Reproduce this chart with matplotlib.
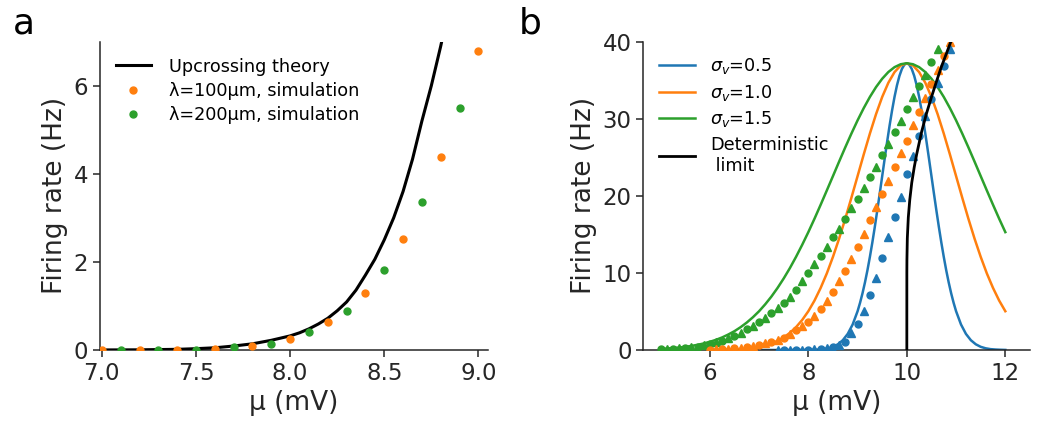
import matplotlib
matplotlib.use("Agg")
import matplotlib.pyplot as plt

# ---------------- Panel a data ----------------
a_theory_x = [7.0, 7.2, 7.4, 7.5, 7.6, 7.7, 7.8, 7.9, 8.0, 8.05, 8.1, 8.15, 8.2, 8.25, 8.3, 8.35,
              8.4, 8.45, 8.5, 8.55, 8.6, 8.65, 8.7, 8.75, 8.8, 8.85]
a_theory_y = [0.001, 0.004, 0.015, 0.03, 0.05, 0.09, 0.14, 0.22, 0.32, 0.39, 0.48, 0.59, 0.72, 0.89,
              1.09, 1.36, 1.7, 2.06, 2.5, 3.0, 3.6, 4.33, 5.2, 6.0, 6.9, 7.9]
a100_x = [7.0, 7.2, 7.4, 7.6, 7.8, 8.0, 8.2, 8.4, 8.6, 8.8, 9.0]
a100_y = [0.0, 0.0, 0.01, 0.03, 0.08, 0.24, 0.64, 1.30, 2.53, 4.39, 6.78]
a200_x = [7.1, 7.3, 7.5, 7.7, 7.9, 8.1, 8.3, 8.5, 8.7, 8.9]
a200_y = [0.0, 0.0, 0.01, 0.06, 0.14, 0.41, 0.89, 1.81, 3.36, 5.49]
a_labels = ["Upcrossing theory", "λ=100μm, simulation", "λ=200μm, simulation"]

# ---------------- Panel b data ----------------
gl_x = [5.0, 5.125, 5.25, 5.375, 5.5, 5.625, 5.75, 5.875, 6.0, 6.125, 6.25, 6.375, 6.5, 6.625,
        6.75, 6.875, 7.0, 7.125, 7.25, 7.375, 7.5, 7.625, 7.75, 7.875, 8.0, 8.125, 8.25, 8.375,
        8.5, 8.625, 8.75, 8.875, 9.0, 9.125, 9.25, 9.375, 9.5, 9.625, 9.75, 9.875, 10.0, 10.125,
        10.25, 10.375, 10.5, 10.625, 10.75, 10.875, 11.0, 11.125, 11.25, 11.375, 11.5, 11.625,
        11.75, 11.875, 12.0]
green_line = [0.14, 0.19, 0.25, 0.32, 0.41, 0.53, 0.67, 0.85, 1.06, 1.32, 1.63, 2.01, 2.44, 2.96,
              3.56, 4.25, 5.03, 5.93, 6.93, 8.05, 9.28, 10.62, 12.08, 13.64, 15.29, 17.03, 18.84,
              20.69, 22.56, 24.44, 26.29, 28.08, 29.79, 31.38, 32.83, 34.11, 35.19, 36.06, 36.69,
              37.07, 37.2, 37.07, 36.69, 36.06, 35.19, 34.11, 32.83, 31.38, 29.79, 28.08, 26.29,
              24.44, 22.56, 20.69, 18.84, 17.03, 15.29]
orange_line = [0.0, 0.0, 0.0, 0.0, 0.0, 0.0, 0.0, 0.0, 0.01, 0.02, 0.03, 0.05, 0.08, 0.125, 0.19,
               0.28, 0.41, 0.60, 0.85, 1.19, 1.63, 2.22, 2.96, 3.89, 5.03, 6.41, 8.05, 9.93, 12.08,
               14.45, 17.03, 19.76, 22.56, 25.37, 28.08, 30.60, 32.83, 34.67, 36.05, 36.91, 37.2,
               36.91, 36.05, 34.67, 32.83, 30.60, 28.08, 25.37, 22.56, 19.76, 17.03, 14.45, 12.08,
               9.93, 8.05, 6.41, 5.03]
bl_x = [5.0, 6.0, 7.0, 7.5, 8.0, 8.1, 8.2, 8.3, 8.4, 8.5, 8.6, 8.7, 8.8, 8.9,
        9.0, 9.05, 9.1, 9.15, 9.2, 9.25, 9.3, 9.35, 9.4, 9.45, 9.5, 9.55, 9.6, 9.65, 9.7, 9.75,
        9.8, 9.85, 9.9, 9.95, 10.0, 10.05, 10.1, 10.15, 10.2, 10.25, 10.3, 10.35, 10.4, 10.45,
        10.5, 10.55, 10.6, 10.65, 10.7, 10.75, 10.8, 10.85, 10.9, 10.95, 11.0,
        11.1, 11.2, 11.3, 11.4, 11.5, 11.6, 11.7, 11.8, 11.9, 12.0]
blue_line = [0.0, 0.0, 0.0, 0.0, 0.01, 0.03, 0.06, 0.11, 0.22, 0.41, 0.74, 1.27, 2.09, 3.31,
             5.03, 6.12, 7.36, 8.77, 10.34, 12.08, 13.96, 15.98, 18.11, 20.31, 22.56, 24.81,
             27.01, 29.12, 31.07, 32.83, 34.34, 35.56, 36.46, 37.01, 37.2, 37.01, 36.46, 35.56,
             34.34, 32.83, 31.07, 29.12, 27.01, 24.81, 22.56, 20.31, 18.11, 15.98, 13.96, 12.08,
             10.34, 8.77, 7.36, 6.12, 5.03,
             3.31, 2.09, 1.27, 0.74, 0.41, 0.22, 0.11, 0.06, 0.03, 0.01]
det_x = [10.0, 10.0005, 10.002, 10.01, 10.03, 10.06, 10.1, 10.15, 10.2, 10.3, 10.4, 10.5, 10.6,
         10.7, 10.8, 10.9]
det_y = [0.0, 10.1, 11.7, 14.5, 17.2, 19.5, 21.7, 23.7, 25.4, 28.3, 30.7, 32.8, 34.8, 36.7, 38.4,
         40.1]

gc_x = [5.0, 5.25, 5.5, 5.75, 6.0, 6.25, 6.5, 6.75, 7.0, 7.25, 7.5, 7.75, 8.0, 8.25, 8.5, 8.75,
        9.0, 9.25, 9.5, 9.75, 10.0, 10.25, 10.5]
gc_y = [0.1, 0.15, 0.25, 0.45, 0.8, 1.2, 1.8, 2.7, 3.6, 4.85, 6.1, 7.8, 10.0, 12.2, 14.6, 17.0,
        19.6, 22.4, 25.3, 28.3, 31.3, 34.3, 37.4]
gt_x = [5.125, 5.375, 5.625, 5.875, 6.125, 6.375, 6.625, 6.875, 7.125, 7.375, 7.625, 7.875, 8.125,
        8.375, 8.625, 8.875, 9.125, 9.375, 9.625, 9.875, 10.125, 10.375, 10.625]
gt_y = [0.12, 0.2, 0.35, 0.6, 1.0, 1.5, 2.2, 3.1, 4.2, 5.5, 6.9, 8.9, 11.1, 13.4, 15.7, 18.4, 21.0,
        23.8, 26.7, 29.7, 32.8, 35.7, 39.0]
oc_x = [6.0, 6.25, 6.5, 6.75, 7.0, 7.25, 7.5, 7.75, 8.0, 8.25, 8.5, 8.75, 9.0, 9.25, 9.5, 9.75,
        10.0, 10.25, 10.5, 10.75]
oc_y = [0.05, 0.1, 0.2, 0.4, 0.7, 1.1, 1.6, 2.6, 3.6, 5.3, 7.5, 10.2, 13.3, 16.8, 20.2, 23.7, 27.1,
        30.9, 34.5, 38.1]
ot_x = [6.125, 6.375, 6.625, 6.875, 7.125, 7.375, 7.625, 7.875, 8.125, 8.375, 8.625, 8.875, 9.125,
        9.375, 9.625, 9.875, 10.125, 10.375, 10.625, 10.875]
ot_y = [0.07, 0.15, 0.3, 0.55, 0.9, 1.3, 2.1, 3.1, 4.4, 6.3, 8.9, 11.8, 15.1, 18.5, 21.9, 25.5,
        29.2, 32.7, 36.3, 39.9]
bc_x = [7.5, 7.75, 8.0, 8.25, 8.5, 8.75, 9.0, 9.25, 9.5, 9.75, 10.0, 10.25, 10.5, 10.75]
bc_y = [0.0, 0.02, 0.05, 0.15, 0.4, 1.1, 3.4, 7.1, 11.9, 17.3, 22.8, 27.7, 32.5, 36.8]
bt_x = [7.375, 7.625, 7.875, 8.125, 8.375, 8.625, 8.875, 9.125, 9.375, 9.625, 9.875, 10.125,
        10.375, 10.625, 10.875]
bt_y = [0.0, 0.01, 0.03, 0.1, 0.25, 0.6, 2.2, 5.0, 9.4, 14.7, 19.9, 25.2, 30.3, 34.7, 39.0]
b_labels = ["$\\sigma_v$=0.5", "$\\sigma_v$=1.0", "$\\sigma_v$=1.5", "Deterministic\n limit"]

BLUE, ORANGE, GREEN = "#1f77b4", "#ff7f0e", "#2ca02c"
TXT = "#262626"

plt.rcParams["font.family"] = ["DejaVu Sans"]
plt.rcParams["axes.edgecolor"] = TXT
plt.rcParams["xtick.color"] = TXT
plt.rcParams["ytick.color"] = TXT

fig = plt.figure(figsize=(10.37, 4.25), dpi=100)
axa = fig.add_axes([0.0964, 0.1765, 0.374, 0.7255])
axb = fig.add_axes([0.6204, 0.1765, 0.3728, 0.7255])

# ---------- Panel a ----------
axa.plot(a_theory_x, a_theory_y, color="black", lw=2.2, label=a_labels[0], zorder=3)
axa.plot(a100_x, a100_y, "o", color=ORANGE, ms=5, label=a_labels[1], zorder=4)
axa.plot(a200_x, a200_y, "o", color=GREEN, ms=5, label=a_labels[2], zorder=4)
axa.set_xlim(6.99, 9.05)
axa.set_ylim(0, 7)
axa.set_xticks([7.0, 7.5, 8.0, 8.5, 9.0])
axa.set_xticklabels(["7.0", "7.5", "8.0", "8.5", "9.0"])
axa.set_yticks([0, 2, 4, 6])
axa.set_xlabel("μ (mV)", fontsize=19, color=TXT)
axa.set_ylabel("Firing rate (Hz)", fontsize=19, color=TXT)
axa.legend(loc="upper left", frameon=False, fontsize=12.7, bbox_to_anchor=(0.0, 1.0),
           handletextpad=1.0, labelspacing=0.35)

# ---------- Panel b ----------
axb.plot(bl_x, blue_line, color=BLUE, lw=1.8, label=b_labels[0], zorder=2)
axb.plot(gl_x, orange_line, color=ORANGE, lw=1.8, label=b_labels[1], zorder=2)
axb.plot(gl_x, green_line, color=GREEN, lw=1.8, label=b_labels[2], zorder=2)
axb.plot(det_x, det_y, color="black", lw=2, label=b_labels[3], zorder=5)
for (cx, cy, tx, ty, c) in [(gc_x, gc_y, gt_x, gt_y, GREEN),
                            (oc_x, oc_y, ot_x, ot_y, ORANGE),
                            (bc_x, bc_y, bt_x, bt_y, BLUE)]:
    axb.plot(cx, cy, "o", color=c, ms=5, zorder=3)
    axb.plot(tx, ty, "^", color=c, ms=5.5, zorder=3)
axb.set_xlim(4.65, 12.5)
axb.set_ylim(0, 40)
axb.set_xticks([6, 8, 10, 12])
axb.set_yticks([0, 10, 20, 30, 40])
axb.set_xlabel("μ (mV)", fontsize=19, color=TXT)
axb.set_ylabel("Firing rate (Hz)", fontsize=19, color=TXT)
axb.legend(loc="upper left", frameon=False, fontsize=12.7, bbox_to_anchor=(0.0, 1.005),
           handletextpad=0.9, labelspacing=0.38)

for ax in (axa, axb):
    ax.spines["top"].set_visible(False)
    ax.spines["right"].set_visible(False)
    ax.tick_params(labelsize=16.5, length=5, width=1.1)
    for s in ("left", "bottom"):
        ax.spines[s].set_linewidth(1.1)

fig.text(0.012, 0.985, "a", fontsize=26, va="top", ha="left", color="black")
fig.text(0.500, 0.985, "b", fontsize=26, va="top", ha="left", color="black")

fig.savefig("out.png", dpi=100)
